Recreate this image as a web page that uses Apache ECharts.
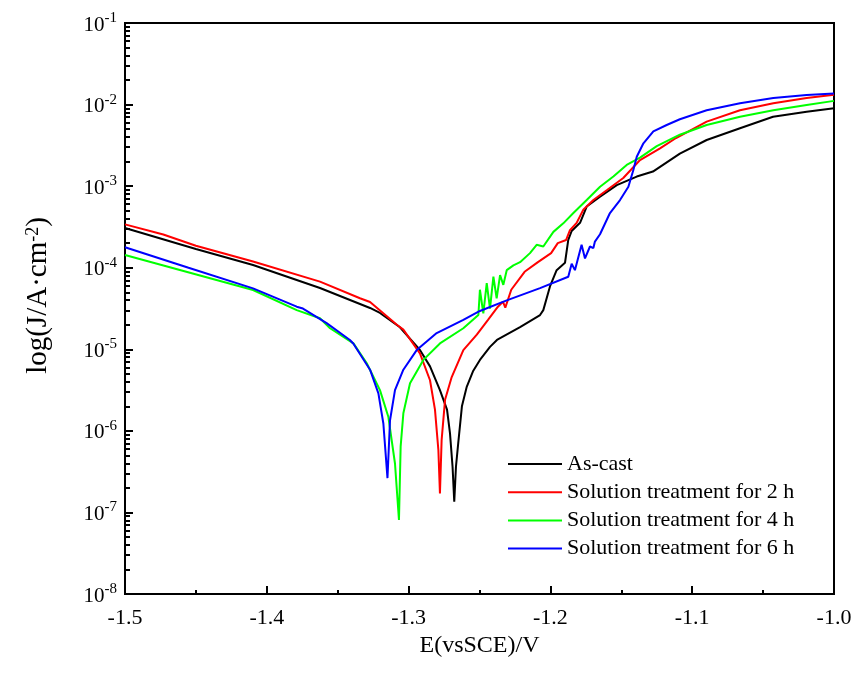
<!DOCTYPE html>
<html>
<head>
<meta charset="utf-8">
<script src="https://cdn.jsdelivr.net/npm/echarts@6/dist/echarts.min.js"></script>
<style>html,body{margin:0;padding:0;background:#fff}#c{width:856px;height:677px}</style>
</head>
<body>
<div id="c"></div>
<script>
const seriesNames = ['As-cast', 'Solution treatment for 2 h', 'Solution treatment for 4 h', 'Solution treatment for 6 h'];
const seriesColors = ['#000000', '#ff0000', '#00ff00', '#0000ff'];

const E_asCast = [-1.5000,-1.4500,-1.4097,-1.3625,-1.3272,-1.3202,-1.3061,-1.2920,-1.2849,-1.2779,-1.2729,-1.2708,-1.2690,-1.2678,-1.2666,-1.2650,-1.2624,-1.2590,-1.2546,-1.2497,-1.2426,-1.2377,-1.2214,-1.2073,-1.2050,-1.2003,-1.1956,-1.1897,-1.1874,-1.1850,-1.1791,-1.1744,-1.1650,-1.1532,-1.1391,-1.1277,-1.1087,-1.0898,-1.0663,-1.0430,-1.0193,-1.0000];
const J_asCast = [3.07e-4,1.70e-4,1.08e-4,5.64e-5,3.21e-5,2.79e-5,1.86e-5,9.8e-6,6.17e-6,3.16e-6,1.82e-6,9.3e-7,3.63e-7,1.35e-7,3.63e-7,7.08e-7,2.0e-6,3.47e-6,5.37e-6,7.41e-6,1.07e-5,1.30e-5,1.87e-5,2.63e-5,3.02e-5,5.89e-5,9.33e-5,1.15e-4,2.19e-4,2.82e-4,3.55e-4,5.62e-4,7.41e-4,1.03e-3,1.31e-3,1.51e-3,2.5e-3,3.68e-3,5.13e-3,7.08e-3,8.18e-3,8.99e-3];

const E_2h = [-1.5000,-1.4730,-1.4500,-1.4097,-1.3625,-1.3343,-1.3272,-1.3083,-1.3037,-1.2920,-1.2849,-1.2814,-1.2790,-1.2779,-1.2767,-1.2743,-1.2696,-1.2614,-1.2519,-1.2440,-1.2370,-1.2335,-1.2318,-1.2276,-1.2182,-1.2088,-1.1995,-1.1948,-1.1889,-1.1862,-1.1815,-1.1768,-1.1697,-1.1603,-1.1486,-1.1368,-1.1227,-1.1114,-1.0898,-1.0663,-1.0428,-1.0193,-1.0000];
const J_2h = [3.40e-4,2.55e-4,1.86e-4,1.19e-4,6.75e-5,4.22e-5,3.80e-5,2.0e-5,1.74e-5,8.9e-6,4.17e-6,1.82e-6,5.82e-7,1.71e-7,7.76e-7,2.40e-6,4.57e-6,9.77e-6,1.51e-5,2.29e-5,3.33e-5,3.83e-5,3.24e-5,5.37e-5,8.91e-5,1.17e-4,1.51e-4,2.0e-4,2.19e-4,2.88e-4,3.55e-4,5.13e-4,6.76e-4,8.91e-4,1.26e-3,2.09e-3,2.91e-3,3.89e-3,6.17e-3,8.51e-3,1.04e-2,1.20e-2,1.32e-2];

const E_4h = [-1.5000,-1.4097,-1.3789,-1.3625,-1.3554,-1.3389,-1.3295,-1.3202,-1.3143,-1.3096,-1.3068,-1.3056,-1.3037,-1.2990,-1.2896,-1.2779,-1.2614,-1.2508,-1.2497,-1.2473,-1.2449,-1.2426,-1.2402,-1.2379,-1.2355,-1.2332,-1.2308,-1.2261,-1.2214,-1.2144,-1.2097,-1.2050,-1.1979,-1.1909,-1.1838,-1.1744,-1.1650,-1.1556,-1.1462,-1.1368,-1.1250,-1.1087,-1.0898,-1.0663,-1.0428,-1.0193,-1.0000];
const J_4h = [1.43e-4,5.33e-5,3.02e-5,2.40e-5,1.81e-5,1.18e-5,6.73e-6,3.16e-6,1.49e-6,3.98e-7,8.07e-8,6.46e-7,1.64e-6,3.83e-6,7.41e-6,1.18e-5,1.81e-5,2.63e-5,5.37e-5,2.75e-5,6.46e-5,3.16e-5,7.76e-5,4.22e-5,8.13e-5,6.17e-5,9.33e-5,1.07e-4,1.17e-4,1.51e-4,1.91e-4,1.82e-4,2.75e-4,3.50e-4,4.68e-4,6.76e-4,9.84e-4,1.31e-3,1.82e-3,2.24e-3,3.09e-3,4.27e-3,5.62e-3,7.08e-3,8.51e-3,9.89e-3,1.11e-2];

const E_6h = [-1.5000,-1.4552,-1.4097,-1.3789,-1.3745,-1.3578,-1.3414,-1.3389,-1.3272,-1.3213,-1.3178,-1.3149,-1.3131,-1.3096,-1.3037,-1.2943,-1.2802,-1.2614,-1.2497,-1.2308,-1.2073,-1.1874,-1.1850,-1.1827,-1.1780,-1.1756,-1.1721,-1.1697,-1.1686,-1.1650,-1.1580,-1.1509,-1.1450,-1.1415,-1.1391,-1.1344,-1.1274,-1.1180,-1.1087,-1.0898,-1.0663,-1.0428,-1.0193,-1.0000];
const J_6h = [1.78e-4,1.0e-4,5.58e-5,3.33e-5,3.16e-5,2.09e-5,1.30e-5,1.17e-5,5.62e-6,2.88e-6,1.23e-6,2.63e-7,1.35e-6,3.16e-6,5.62e-6,9.77e-6,1.58e-5,2.29e-5,2.95e-5,3.98e-5,5.62e-5,7.76e-5,1.12e-4,9.33e-5,1.91e-4,1.30e-4,1.82e-4,1.74e-4,2.09e-4,2.57e-4,4.68e-4,6.76e-4,9.84e-4,1.58e-3,2.29e-3,3.35e-3,4.68e-3,5.62e-3,6.61e-3,8.51e-3,1.04e-2,1.20e-2,1.31e-2,1.37e-2];

const xTickValues = [-1.5, -1.4, -1.3, -1.2, -1.1, -1.0];
const yDecades = [-8, -7, -6, -5, -4, -3, -2, -1];

const allE = [E_asCast, E_2h, E_4h, E_6h];
const allJ = [J_asCast, J_2h, J_4h, J_6h];

const FONT = '"Liberation Serif", "Times New Roman", serif';

// minor tick positions (2..9 x 10^n) in log10 space
const minorLog = [];
yDecades.slice(0, -1).forEach(d => { for (let k = 2; k <= 9; k++) minorLog.push(d + Math.log10(k)); });

const chart = echarts.init(document.getElementById('c'), null, {renderer: 'canvas'});
const option = {
  backgroundColor: '#fff',
  animation: false,
  grid: {left: 125, right: 22, top: 23, bottom: 83, show: true, borderColor: '#000', borderWidth: 2, containLabel: false},
  legend: {
    orient: 'vertical', left: 508, top: 453, padding: 0,
    icon: 'rect', itemWidth: 54, itemHeight: 2, itemGap: 6.2,
    textStyle: {fontFamily: FONT, fontSize: 22, color: '#000'},
    data: seriesNames
  },
  xAxis: {
    type: 'value', min: -1.5, max: -1.0, interval: 0.1,
    name: 'E(vsSCE)/V', nameLocation: 'middle', nameGap: 33,
    nameTextStyle: {fontFamily: FONT, fontSize: 24, color: '#000'},
    axisLine: {lineStyle: {color: '#000', width: 2}},
    axisTick: {inside: true, length: 8, lineStyle: {color: '#000', width: 2}},
    minorTick: {show: true, splitNumber: 2, length: 4, lineStyle: {color: '#000', width: 2}},
    splitLine: {show: false},
    axisLabel: {fontFamily: FONT, fontSize: 22, color: '#000', margin: 13, formatter: v => v.toFixed(1)}
  },
  yAxis: [{
    type: 'log', logBase: 10, min: 1e-8, max: 1e-1, splitNumber: 7,
    name: 'log(J/A·cm{sup|-2})', nameLocation: 'middle', nameGap: 72,
    nameTextStyle: {fontFamily: FONT, fontSize: 29, color: '#000', padding: [0, 0, 0, 26],
      rich: {sup: {fontFamily: FONT, fontSize: 18, verticalAlign: 'top', color: '#000'}}},
    axisLine: {lineStyle: {color: '#000', width: 2}},
    axisTick: {inside: true, length: 8, lineStyle: {color: '#000', width: 2}},
    splitLine: {show: false},
    axisLabel: {
      margin: 8,
      formatter: v => '{b|10}{s|' + Math.round(Math.log10(v)) + '}',
      rich: {
        b: {fontFamily: FONT, fontSize: 21, lineHeight: 25, verticalAlign: 'bottom', color: '#000'},
        s: {fontFamily: FONT, fontSize: 15, lineHeight: 15, verticalAlign: 'top', color: '#000'}
      }
    }
  }, {
    type: 'value', min: -8, max: -1, position: 'left',
    axisLine: {show: false},
    axisLabel: {show: false},
    splitLine: {show: false},
    axisTick: {show: true, inside: true, length: 5, customValues: minorLog, lineStyle: {color: '#000', width: 2}}
  }],
  series: seriesNames.map((n, i) => ({
    name: n, type: 'line', yAxisIndex: 0, symbol: 'none', smooth: false,
    lineStyle: {color: seriesColors[i], width: 2}, itemStyle: {color: seriesColors[i]},
    data: allE[i].map((e, k) => [e, allJ[i][k]])
  }))
};
chart.setOption(option);
</script>
</body>
</html>
